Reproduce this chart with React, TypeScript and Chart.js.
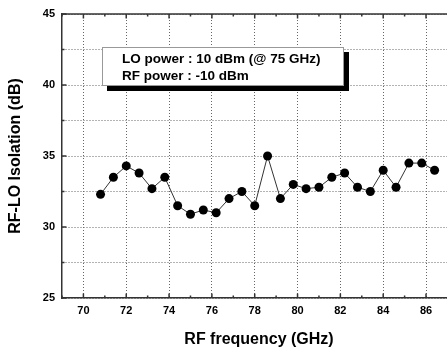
import { useEffect, useRef } from 'react';
import { Chart, registerables } from 'chart.js';

Chart.register(...registerables);

const frequencies = [70.8, 71.4, 72.0, 72.6, 73.2, 73.8, 74.4, 75.0, 75.6, 76.2, 76.8, 77.4, 78.0, 78.6, 79.2, 79.8, 80.4, 81.0, 81.6, 82.2, 82.8, 83.4, 84.0, 84.6, 85.2, 85.8, 86.4];
const isolation = [32.3, 33.5, 34.3, 33.8, 32.7, 33.5, 31.5, 30.9, 31.2, 31.0, 32.0, 32.5, 31.5, 35.0, 32.0, 33.0, 32.7, 32.8, 33.5, 33.8, 32.8, 32.5, 34.0, 32.8, 34.5, 34.5, 34.0];
const xTickLabels = [70, 72, 74, 76, 78, 80, 82, 84, 86];
const yTickLabels = [25, 30, 35, 40, 45];
const legendLines = ['LO power : 10 dBm (@ 75 GHz)', 'RF power : -10 dBm'];
const xTitle = 'RF frequency (GHz)';
const yTitle = 'RF-LO Isolation (dB)';

const FONT = '"Liberation Sans", Arial, sans-serif';

const framePlugin = {
  id: 'frameTicks',
  afterDraw(chart: any) {
    const { ctx, chartArea, scales } = chart;
    const { left, top, right, bottom } = chartArea;
    const x = scales.x;
    const y = scales.y;
    ctx.save();
    ctx.setLineDash([]);
    ctx.strokeStyle = '#333';
    ctx.lineWidth = 1.5;
    ctx.beginPath();
    ctx.moveTo(left, top);
    ctx.lineTo(right, top);
    ctx.stroke();
    x.ticks.forEach((t: any) => {
      if (!Number.isInteger(t.value)) return;
      const px = x.getPixelForValue(t.value);
      const len = xTickLabels.includes(t.value) ? 4.5 : 2.5;
      ctx.beginPath();
      ctx.moveTo(px, bottom);
      ctx.lineTo(px, bottom - len);
      ctx.moveTo(px, top);
      ctx.lineTo(px, top + len);
      ctx.stroke();
    });
    y.ticks.forEach((t: any) => {
      const py = y.getPixelForValue(t.value);
      const len = yTickLabels.includes(t.value) ? 4.5 : 2.5;
      ctx.beginPath();
      ctx.moveTo(left, py);
      ctx.lineTo(left + len, py);
      ctx.stroke();
    });
    ctx.restore();
  },
};

export default function App() {
  const ref = useRef<HTMLCanvasElement>(null);

  useEffect(() => {
    if (!ref.current) return;
    const chart = new Chart(ref.current, {
      type: 'line',
      data: {
        datasets: [
          {
            data: frequencies.map((f, i) => ({ x: f, y: isolation[i] })),
            borderColor: '#333',
            borderWidth: 1,
            pointRadius: 4.5,
            pointBackgroundColor: '#000',
            pointBorderColor: '#000',
            pointBorderWidth: 0,
            tension: 0,
          },
        ],
      },
      options: {
        animation: false,
        responsive: false,
        devicePixelRatio: 1,
        layout: { padding: { top: 14, right: 1, left: 0, bottom: 0 } },
        plugins: { legend: { display: false }, tooltip: { enabled: false } },
        scales: {
          x: {
            type: 'linear',
            min: 69,
            max: 87.4,
            afterFit: (s: any) => { s.height = 50; },
            border: { display: true, color: '#333', width: 1.5, dash: [1, 2] },
            grid: {
              drawTicks: false,
              color: (c: any) => (c.tick && xTickLabels.includes(c.tick.value) ? '#666' : 'rgba(0,0,0,0)'),
              lineWidth: 1,
            },
            ticks: {
              stepSize: 1,
              autoSkip: false,
              maxRotation: 0,
              padding: 6,
              color: '#000',
              font: { family: FONT, size: 11, weight: 'bold' },
              callback: (v: any) => (xTickLabels.includes(v) ? String(v) : ''),
            },
            title: {
              display: true,
              text: xTitle,
              color: '#000',
              font: { family: FONT, size: 16, weight: 'bold', lineHeight: 1 },
              padding: { top: 0, bottom: 0 },
            },
          },
          y: {
            type: 'linear',
            min: 25,
            max: 45,
            afterFit: (s: any) => { s.width = 62; },
            border: { display: true, color: '#333', width: 1.5, dash: [1, 2] },
            grid: {
              drawTicks: false,
              color: '#666',
              lineWidth: 1,
            },
            ticks: {
              stepSize: 2.5,
              autoSkip: false,
              padding: 7,
              color: '#000',
              font: { family: FONT, size: 11, weight: 'bold' },
              callback: (v: any) => (yTickLabels.includes(v) ? String(v) : ''),
            },
            title: {
              display: true,
              text: yTitle,
              color: '#000',
              font: { family: FONT, size: 16, weight: 'bold', lineHeight: 1 },
              padding: { top: 8, bottom: 0 },
            },
          },
        },
      } as any,
      plugins: [framePlugin],
    });
    return () => chart.destroy();
  }, []);

  return (
    <div style={{ position: 'absolute', left: 0, top: 0, width: 447, height: 348, overflow: 'hidden', background: '#fff' }}>
      <canvas ref={ref} width={462} height={348} style={{ display: 'block' }} />
      <div
        style={{
          position: 'absolute',
          left: 102,
          top: 47,
          width: 221,
          height: 35.5,
          border: '1px solid #999',
          background: '#fff',
          boxShadow: '5px 5px 0 #000',
          fontFamily: FONT,
          fontWeight: 'bold',
          fontSize: '13.5px',
          lineHeight: '17.7px',
          paddingLeft: 19,
          paddingTop: 1.5,
          boxSizing: 'content-box',
          color: '#000',
          whiteSpace: 'nowrap',
        }}
      >
        {legendLines.map((l) => (
          <div key={l}>{l}</div>
        ))}
      </div>
    </div>
  );
}
